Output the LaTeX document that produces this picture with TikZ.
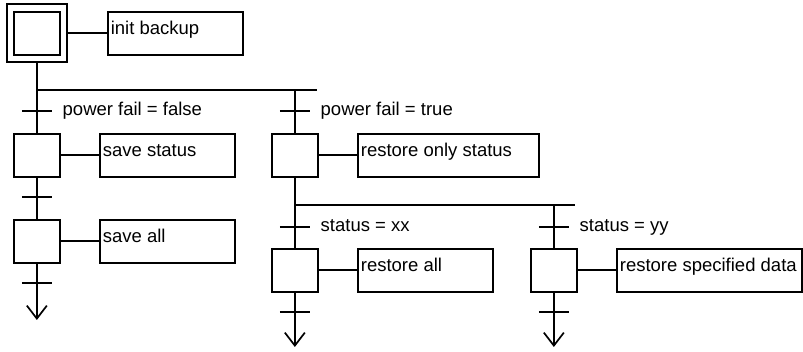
\documentclass[tikz,border=0pt]{standalone}
\usepackage{fontspec}
\setmainfont{Liberation Sans}
\usetikzlibrary{arrows.meta}
\begin{document}
\begin{tikzpicture}[x=1pt,y=-1pt,line width=1.7pt,
  font=\fontsize{18.5pt}{21pt}\selectfont,
  stepbox/.style={draw,minimum width=46pt,minimum height=43pt,inner sep=0pt,anchor=north west},
  outerbox/.style={draw,minimum width=60pt,minimum height=58pt,inner sep=0pt},
  actbox/.style={draw,minimum height=43pt,inner sep=0pt,anchor=north west},
  acttext/.style={anchor=north west,inner xsep=3pt,inner ysep=9.5pt,text height=13pt,text depth=4pt},
  condtext/.style={anchor=west,inner sep=0pt,text height=13pt,text depth=4pt},
  flow/.style={-{Straight Barb[length=13pt,width=20pt]}}]
\useasboundingbox (0,0) rectangle (803,352);

% steps
\node[stepbox] (s0) at (13,11) {};
\node[outerbox] (s0o) at (s0.center) {};
\node[stepbox] (s1) at (13,133) {};
\node[stepbox] (s2) at (13,219) {};
\node[stepbox] (s3) at (271,133) {};
\node[stepbox] (s4) at (271,248) {};
\node[stepbox] (s5) at (530,248) {};

% actions
\node[actbox,minimum width=135pt,label={[acttext]north west:init backup}] (a0) at (107,11) {};
\node[actbox,minimum width=135pt,label={[acttext]north west:save status}] (a1) at (99,133) {};
\node[actbox,minimum width=135pt,label={[acttext]north west:save all}] (a2) at (99,219) {};
\node[actbox,minimum width=181pt,label={[acttext]north west:restore only status}] (a3) at (357,133) {};
\node[actbox,minimum width=135pt,label={[acttext]north west:restore all}] (a4) at (357,248) {};
\node[actbox,minimum width=185pt,label={[acttext]north west:restore specified data}] (a5) at (616,248) {};

\draw (s0o.east) -- (a0.west);
\draw (s1.east) -- (a1.west);
\draw (s2.east) -- (a2.west);
\draw (s3.east) -- (a3.west);
\draw (s4.east) -- (a4.west);
\draw (s5.east) -- (a5.west);

% branch coordinates
\coordinate (b1) at (s0.center |- 0,90);
\coordinate (b1m) at (s3.center |- 0,90);
\coordinate (b1e) at (317,90);
\coordinate (b2) at (s3.center |- 0,205);
\coordinate (b2r) at (s5.center |- 0,205);
\coordinate (b2e) at (575,205);

% transitions
\coordinate (t1) at (s0.center |- 0,111);
\coordinate (t2) at (s3.center |- 0,111);
\coordinate (t3) at (s0.center |- 0,197);
\coordinate (t4) at (s0.center |- 0,283);
\coordinate (t5) at (s3.center |- 0,227);
\coordinate (t6) at (s5.center |- 0,227);
\coordinate (t7) at (s3.center |- 0,312);
\coordinate (t8) at (s5.center |- 0,312);

% arrow ends
\coordinate (e1) at (s0.center |- 0,320);
\coordinate (e2) at (s3.center |- 0,347);
\coordinate (e3) at (s5.center |- 0,347);

% flow lines
\draw (s0o.south) -- (s1.north);
\draw (b1) -- (b1e);
\draw (b1m) -- (s3.north);
\draw (s1.south) -- (s2.north);
\draw[flow] (s2.south) -- (e1);
\draw (s3.south) -- (s4.north);
\draw (b2) -- (b2e);
\draw (b2r) -- (s5.north);
\draw[flow] (s4.south) -- (e2);
\draw[flow] (s5.south) -- (e3);

% ticks
\foreach \t in {t1,t2,t3,t4,t5,t6,t7,t8}
  \draw ([xshift=-15pt]\t) -- ([xshift=15pt]\t);

% conditions
\node[condtext] (c1) at ([xshift=25pt]t1) {power fail = false};
\node[condtext] (c2) at ([xshift=25pt]t2) {power fail = true};
\node[condtext] (c3) at ([xshift=25pt]t5) {status = xx};
\node[condtext] (c4) at ([xshift=25pt]t6) {status = yy};
\end{tikzpicture}
\end{document}
